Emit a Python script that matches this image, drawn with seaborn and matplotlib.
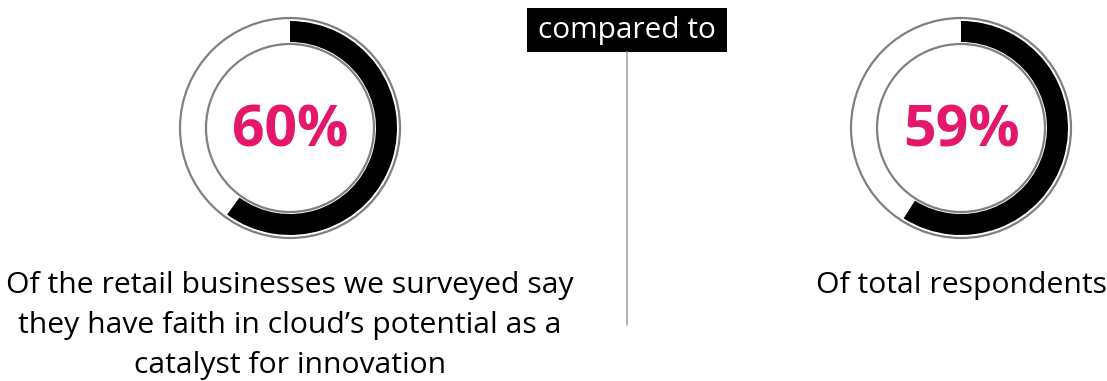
import matplotlib
matplotlib.use("Agg")
import matplotlib.pyplot as plt
import seaborn as sns
from matplotlib.patches import Circle, Rectangle

# ---- data ----
percentages = [60, 59]
value_labels = ["60%", "59%"]
captions = [
    ["Of the retail businesses we surveyed say",
     "they have faith in cloud\u2019s potential as a",
     "catalyst for innovation"],
    ["Of total respondents"],
]
divider_label = "compared to"

sns.set_theme(style="white")
plt.rcParams["font.family"] = ["Open Sans", "DejaVu Sans"]

W, H = 1107, 381
fig = plt.figure(figsize=(W / 100, H / 100), dpi=100)
fig.patch.set_facecolor("white")

main = fig.add_axes([0, 0, 1, 1])
main.set_xlim(0, W)
main.set_ylim(H, 0)
main.axis("off")

PINK = "#E5176B"
GRAY = "#808080"

centers = [(290, 128), (961, 128)]
unit = 110.0  # pixels per unit radius
half = 1.2

for (cx, cy), pct, lab in zip(centers, percentages, value_labels):
    size = 2 * half * unit
    ax = fig.add_axes([(cx - half * unit) / W, (H - cy - half * unit) / H,
                       size / W, size / H])
    ax.pie([pct, 100 - pct], radius=107 / unit, startangle=90,
           counterclock=False, colors=["black", "none"],
           wedgeprops=dict(width=21 / unit, linewidth=0))
    ax.add_patch(Circle((0, 0), 1.0, fill=False, edgecolor=GRAY, lw=1.6))
    ax.add_patch(Circle((0, 0), 84 / unit, fill=False, edgecolor=GRAY, lw=1.6))
    ax.set_xlim(-half, half)
    ax.set_ylim(-half, half)
    ax.set_aspect("equal")
    ax.axis("off")
    ax.text(0, -0.03, lab, ha="center", va="center", color=PINK,
            fontsize=41, fontweight="bold")

# captions
baselines = [293, 333, 373]
for (cx, _), lines in zip(centers, captions):
    for line, yb in zip(lines, baselines):
        main.text(cx, yb, line, ha="center", va="baseline",
                  fontsize=21.7, color="black")

# divider
main.plot([627, 627], [52, 325], color="#a6a6a6", lw=1.2)
main.add_patch(Rectangle((527, 8), 200, 44, facecolor="black",
                         edgecolor="none"))
main.text(627, 38, divider_label, ha="center", va="baseline", color="white",
          fontsize=21.5)

fig.savefig("out.png", dpi=100, facecolor="white")
